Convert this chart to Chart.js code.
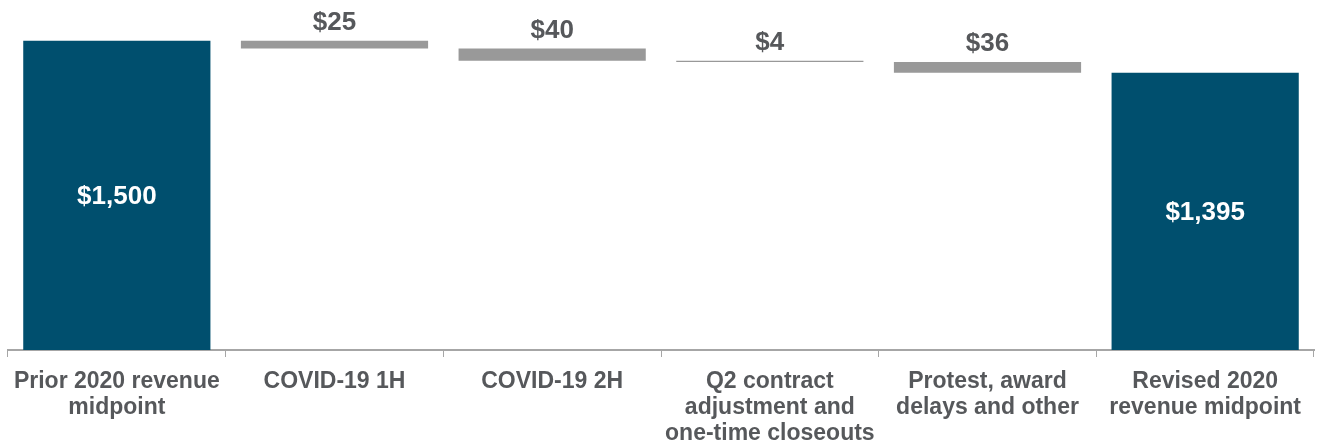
<!DOCTYPE html>
<html>
<head>
<meta charset="utf-8">
<script src="https://cdn.jsdelivr.net/npm/chart.js@4/dist/chart.umd.min.js"></script>
<style>
  html, body { margin: 0; padding: 0; background: #fff; }
  #wrap { width: 1317px; height: 446px; position: relative; }
</style>
</head>
<body>
<div id="wrap"><canvas id="c"></canvas></div>
<script>
// waterfall data ($M)
const categories = [
    ['Prior 2020 revenue', 'midpoint'],
    ['COVID-19 1H'],
    ['COVID-19 2H'],
    ['Q2 contract', 'adjustment and', 'one-time closeouts'],
    ['Protest, award', 'delays and other'],
    ['Revised 2020', 'revenue midpoint']
];
const amounts = [1500, -25, -40, -4, -36, 1395];
const isTotal = [true, false, false, false, false, true];
const valueLabels = ['$1,500', '$25', '$40', '$4', '$36', '$1,395'];

const navy = '#004f6e';
const gray = '#999999';
const textColor = '#56585b';
const fontFamily = '"Liberation Sans", Arial, sans-serif';

// floating ranges for the waterfall
let running = 0;
const ranges = amounts.map((v, i) => {
    if (isTotal[i]) {
        running = v;
        return [0, v];
    }
    const start = running;
    running += v;
    return [running, start];
});

const labelPlugin = {
    id: 'valueLabels',
    afterDatasetsDraw(chart) {
        const ctx = chart.ctx;
        const meta = chart.getDatasetMeta(0);
        const bottomEdge = chart.chartArea.bottom;
        ctx.save();
        ctx.textAlign = 'center';
        ctx.textBaseline = 'middle';
        ctx.font = 'bold 26px ' + fontFamily;
        meta.data.forEach((bar, i) => {
            const top = Math.min(bar.y, bar.base);
            const bottom = Math.min(Math.max(bar.y, bar.base), bottomEdge);
            if (isTotal[i]) {
                ctx.fillStyle = '#ffffff';
                ctx.fillText(valueLabels[i], bar.x, (top + bottom) / 2 + 1);
            } else {
                ctx.fillStyle = textColor;
                ctx.fillText(valueLabels[i], bar.x, top - 18);
            }
        });
        ctx.restore();
    }
};

new Chart(document.getElementById('c'), {
    type: 'bar',
    data: {
        labels: categories,
        datasets: [{
            data: ranges,
            backgroundColor: isTotal.map(t => t ? navy : gray),
            borderWidth: 0,
            borderSkipped: false,
            categoryPercentage: 1.0,
            barPercentage: 0.86
        }]
    },
    options: {
        responsive: true,
        maintainAspectRatio: false,
        animation: false,
        layout: { padding: { left: 8, right: 3, top: 0, bottom: 0 } },
        plugins: {
            legend: { display: false },
            tooltip: { enabled: false }
        },
        scales: {
            x: {
                afterFit(scale) { scale.height = 96; },
                grid: {
                    drawOnChartArea: false,
                    drawTicks: true,
                    tickLength: 7,
                    color: '#a6a6a6'
                },
                border: { color: '#a6a6a6', width: 2 },
                ticks: {
                    color: textColor,
                    font: { family: fontFamily, size: 23, weight: 'bold', lineHeight: 1.15 },
                    padding: 11,
                    maxRotation: 0,
                    autoSkip: false
                }
            },
            y: {
                display: false,
                min: 486,
                max: 1634
            }
        }
    },
    plugins: [labelPlugin]
});
</script>
</body>
</html>
